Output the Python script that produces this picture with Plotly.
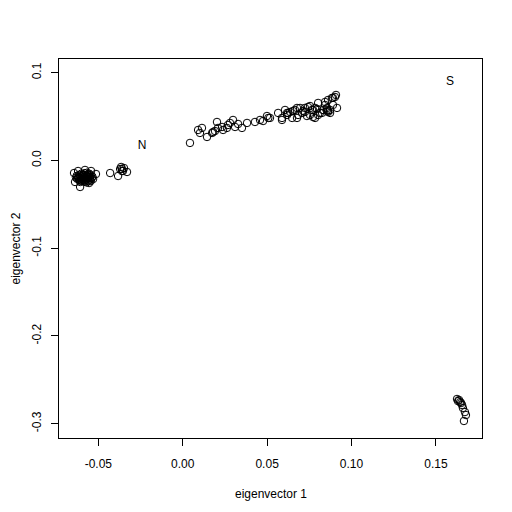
import plotly.graph_objects as go

# eigenvector scores
ev1 = [
    # left cluster (outer circles)
    -0.0644, -0.0638, -0.0608, -0.0555, -0.0514, -0.0531, -0.0579, -0.0620, -0.0543,
    # left cluster (dense part)
    -0.0612, -0.0598, -0.0585, -0.0570, -0.0560, -0.0603, -0.0590, -0.0575, -0.0562, -0.0550,
    -0.0620, -0.0615, -0.0600, -0.0583, -0.0568, -0.0555, -0.0545, -0.0540, -0.0548, -0.0560,
    -0.0578, -0.0595, -0.0610, -0.0625, -0.0628, -0.0605, -0.0592, -0.0580, -0.0566, -0.0552,
    -0.0588, -0.0574, -0.0596, -0.0618, -0.0583, -0.0565, -0.0557, -0.0607, -0.0570, -0.0535,
    -0.0632, -0.0545,
    # small cluster
    -0.0430, -0.0383, -0.0360, -0.0354, -0.0365, -0.0348, -0.0330, -0.0360, -0.0371,
    # diagonal band
    0.0043, 0.0091, 0.0114, 0.0102, 0.0144, 0.0174, 0.0180, 0.0191, 0.0203, 0.0209,
    0.0233, 0.0239, 0.0262, 0.0268, 0.0280, 0.0298, 0.0310, 0.0328, 0.0351, 0.0381,
    0.0428, 0.0458, 0.0476, 0.0499, 0.0517, 0.0565, 0.0588, 0.0606, 0.0618, 0.0636,
    0.0648, 0.0665, 0.0677, 0.0695, 0.0707, 0.0724, 0.0742, 0.0754, 0.0766, 0.0772,
    0.0796, 0.0802, 0.0813, 0.0831, 0.0843, 0.0855, 0.0861, 0.0873, 0.0884, 0.0890,
    0.0902, 0.0914, 0.0507, 0.0588, 0.0624, 0.0653, 0.0683, 0.0724, 0.0784, 0.0802,
    0.0843, 0.0861, 0.0890,
    0.0618, 0.0677, 0.0713, 0.0736, 0.0754, 0.0772, 0.0784, 0.0825, 0.0855, 0.0873,
    0.0861, 0.0908,
    # bottom right cluster
    0.1625, 0.1637, 0.1643, 0.1649, 0.1655, 0.1660, 0.1672, 0.1678, 0.1666, 0.1631,
]
ev2 = [
    -0.0143, -0.0245, -0.0302, -0.0257, -0.0154, -0.0211, -0.0108, -0.0120, -0.0120,
    -0.0165, -0.0178, -0.0190, -0.0172, -0.0198, -0.0205, -0.0215, -0.0222, -0.0160, -0.0185,
    -0.0190, -0.0215, -0.0150, -0.0145, -0.0140, -0.0150, -0.0168, -0.0200, -0.0220, -0.0235,
    -0.0240, -0.0235, -0.0230, -0.0210, -0.0175, -0.0185, -0.0195, -0.0205, -0.0210, -0.0205,
    -0.0165, -0.0185, -0.0162, -0.0200, -0.0228, -0.0182, -0.0170, -0.0245, -0.0250, -0.0185,
    -0.0195, -0.0235,
    -0.0143, -0.0177, -0.0097, -0.0120, -0.0074, -0.0086, -0.0131, -0.0120, -0.0097,
    0.0200, 0.0348, 0.0371, 0.0314, 0.0268, 0.0314, 0.0325, 0.0336, 0.0439, 0.0371,
    0.0382, 0.0348, 0.0371, 0.0405, 0.0428, 0.0462, 0.0382, 0.0416, 0.0371, 0.0428,
    0.0439, 0.0462, 0.0450, 0.0507, 0.0485, 0.0542, 0.0485, 0.0576, 0.0519, 0.0553,
    0.0485, 0.0576, 0.0485, 0.0599, 0.0542, 0.0553, 0.0610, 0.0519, 0.0576, 0.0496,
    0.0587, 0.0656, 0.0542, 0.0576, 0.0667, 0.0599, 0.0553, 0.0576, 0.0713, 0.0633,
    0.0724, 0.0599, 0.0485, 0.0462, 0.0542, 0.0564, 0.0519, 0.0599, 0.0599, 0.0519,
    0.0633, 0.0564, 0.0713,
    0.0542, 0.0599, 0.0564, 0.0507, 0.0621, 0.0576, 0.0485, 0.0542, 0.0576, 0.0542,
    0.0690, 0.0747,
    -0.2719, -0.2731, -0.2754, -0.2765, -0.2788, -0.2822, -0.2868, -0.2902, -0.2970, -0.2743,
]

label_text = ["N", "S"]
label_x = [-0.0241, 0.1584]
label_y = [0.0165, 0.0895]

x_ticks = [-0.05, 0.0, 0.05, 0.10, 0.15]
x_ticktext = ["-0.05", "0.00", "0.05", "0.10", "0.15"]
y_ticks = [0.1, 0.0, -0.1, -0.2, -0.3]
y_ticktext = ["0.1", "0.0", "-0.1", "-0.2", "-0.3"]

FONT = "Liberation Sans, Arial, Helvetica, sans-serif"

fig = go.Figure()

fig.add_trace(
    go.Scatter(
        x=ev1,
        y=ev2,
        mode="markers",
        marker=dict(symbol="circle-open", size=7.5, color="black", line=dict(width=1, color="black")),
        showlegend=False,
        hoverinfo="skip",
    )
)

fig.add_trace(
    go.Scatter(
        x=label_x,
        y=label_y,
        mode="text",
        text=label_text,
        textposition="middle center",
        textfont=dict(family=FONT, size=12, color="black"),
        showlegend=False,
        hoverinfo="skip",
    )
)

axis_common = dict(
    showgrid=False,
    zeroline=False,
    showline=True,
    mirror=True,
    linecolor="black",
    linewidth=1,
    ticks="outside",
    ticklen=7,
    tickwidth=1,
    tickcolor="black",
    automargin=False,
    tickfont=dict(family=FONT, size=12, color="black"),
)

# page body has an 8px margin, so the figure is 504 wide and margins are trimmed
fig.update_layout(
    width=504,
    height=504,
    margin=dict(l=51, r=30, t=51, b=74),
    paper_bgcolor="white",
    plot_bgcolor="white",
    font=dict(family=FONT, size=12, color="black"),
    xaxis=dict(
        range=[-0.0733, 0.1773],
        tickmode="array",
        tickvals=x_ticks,
        ticktext=x_ticktext,
        ticklabelstandoff=8,
        **axis_common,
    ),
    yaxis=dict(
        range=[-0.3164, 0.1157],
        tickmode="array",
        tickvals=y_ticks,
        ticktext=y_ticktext,
        tickangle=-90,
        ticklabelstandoff=5,
        **axis_common,
    ),
    annotations=[
        dict(
            text="eigenvector 1",
            xref="paper", yref="paper",
            x=0.5, y=0,
            xanchor="center", yanchor="top",
            yshift=-47,
            showarrow=False,
            font=dict(family=FONT, size=12, color="black"),
        ),
        dict(
            text="eigenvector 2",
            xref="paper", yref="paper",
            x=0, y=0.5,
            xanchor="center", yanchor="middle",
            xshift=-44,
            textangle=-90,
            showarrow=False,
            font=dict(family=FONT, size=12, color="black"),
        ),
    ],
)

fig.write_html("out.html")
